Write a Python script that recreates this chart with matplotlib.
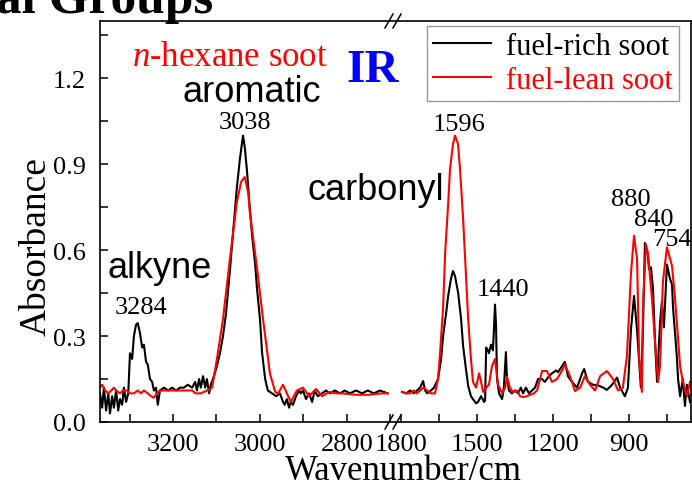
import matplotlib
matplotlib.use("Agg")
import matplotlib.pyplot as plt
from matplotlib.ticker import MultipleLocator

plt.rcParams['font.family'] = 'Liberation Serif'
plt.rcParams['mathtext.fontset'] = 'custom'
plt.rcParams['mathtext.rm'] = 'Liberation Serif'
plt.rcParams['mathtext.it'] = 'Liberation Serif:italic'

# C-H stretching region (cm-1)
rich_ch_wn = [3368, 3363, 3359, 3354, 3349, 3345, 3340, 3336, 3331, 3326, 3322, 3317, 3313, 3308,
              3303, 3299, 3294, 3290, 3285, 3281, 3276, 3271, 3267, 3262, 3258, 3253, 3248, 3244,
              3239, 3235, 3230, 3221, 3211, 3202, 3193, 3184, 3175, 3166, 3156, 3149, 3145, 3140,
              3136, 3131, 3126, 3122, 3117, 3113, 3106, 3099, 3092, 3085, 3078, 3069, 3062, 3053,
              3046, 3039, 3035, 3030, 3023, 3018, 3011, 3007, 3000, 2995, 2988, 2982, 2972, 2963,
              2954, 2947, 2943, 2938, 2933, 2929, 2924, 2917, 2910, 2906, 2901, 2894, 2887, 2880,
              2874, 2867, 2857, 2848, 2839, 2828, 2816, 2805, 2793, 2779, 2765, 2752, 2738, 2724, 2706]
rich_ch_abs = [0.10, 0.05, 0.12, 0.04, 0.10, 0.03, 0.09, 0.05, 0.11, 0.04, 0.08, 0.06, 0.12, 0.07,
               0.10, 0.24, 0.22, 0.30, 0.34, 0.345, 0.31, 0.26, 0.27, 0.21, 0.20, 0.15, 0.14, 0.11,
               0.12, 0.06, 0.11, 0.12, 0.11, 0.12, 0.11, 0.12, 0.12, 0.13, 0.12, 0.14, 0.11, 0.15,
               0.12, 0.16, 0.12, 0.15, 0.10, 0.13, 0.16, 0.195, 0.24, 0.30, 0.38, 0.53, 0.66, 0.82,
               0.92, 1.00, 0.96, 0.88, 0.74, 0.65, 0.55, 0.47, 0.36, 0.24, 0.15, 0.11, 0.10, 0.09,
               0.10, 0.07, 0.06, 0.08, 0.05, 0.07, 0.06, 0.09, 0.11, 0.10, 0.11, 0.08, 0.10, 0.07,
               0.11, 0.09, 0.10, 0.11, 0.10, 0.11, 0.10, 0.11, 0.10, 0.11, 0.10, 0.11, 0.10, 0.11, 0.10]

lean_ch_wn = [3368, 3363, 3356, 3349, 3342, 3336, 3331, 3322, 3315, 3306, 3299, 3290, 3281, 3274,
              3267, 3258, 3251, 3244, 3237, 3230, 3200, 3170, 3156, 3149, 3136, 3122, 3110, 3099,
              3085, 3069, 3053, 3043, 3035, 3027, 3023, 3007, 2993, 2977, 2965, 2958, 2947, 2938,
              2929, 2915, 2901, 2887, 2871, 2857, 2841, 2825, 2811, 2779, 2750, 2720, 2706]
lean_ch_abs = [0.12, 0.13, 0.11, 0.10, 0.11, 0.12, 0.11, 0.10, 0.11, 0.11, 0.10, 0.10, 0.11, 0.10,
               0.11, 0.10, 0.09, 0.085, 0.10, 0.11, 0.11, 0.11, 0.11, 0.10, 0.10, 0.11, 0.12, 0.22,
               0.36, 0.57, 0.77, 0.84, 0.855, 0.80, 0.73, 0.54, 0.36, 0.17, 0.105, 0.10, 0.13, 0.10,
               0.07, 0.11, 0.12, 0.09, 0.115, 0.09, 0.105, 0.10, 0.10, 0.095, 0.095, 0.10, 0.10]

# fingerprint region (cm-1)
rich_fp_wn = [1796, 1780, 1764, 1749, 1737, 1725, 1713, 1705, 1697, 1682, 1670, 1654, 1642, 1634,
              1622, 1614, 1603, 1595, 1587, 1575, 1563, 1555, 1543, 1535, 1524, 1516, 1504, 1496,
              1484, 1472, 1468, 1464, 1457, 1453, 1445, 1437, 1429, 1425, 1421, 1413, 1401, 1394,
              1386, 1382, 1374, 1362, 1350, 1338, 1327, 1318, 1307, 1295, 1283, 1271, 1259, 1243,
              1232, 1216, 1204, 1188, 1180, 1168, 1153, 1141, 1125, 1105, 1085, 1077, 1062, 1042,
              1022, 1002, 987, 967, 947, 935, 916, 904, 892, 880, 868, 853, 845, 837, 825, 821,
              813, 805, 797, 789, 777, 770, 762, 750, 738, 730, 726, 711, 706, 698, 687, 679, 671, 659]
rich_fp_abs = [0.105, 0.10, 0.11, 0.10, 0.11, 0.12, 0.143, 0.11, 0.10, 0.11, 0.12, 0.15, 0.22, 0.30,
               0.38, 0.44, 0.50, 0.527, 0.51, 0.453, 0.36, 0.265, 0.18, 0.126, 0.09, 0.08, 0.065, 0.07,
               0.09, 0.07, 0.075, 0.26, 0.25, 0.24, 0.27, 0.25, 0.41, 0.34, 0.15, 0.10, 0.08, 0.12,
               0.244, 0.16, 0.11, 0.10, 0.11, 0.10, 0.12, 0.10, 0.12, 0.10, 0.11, 0.12, 0.15, 0.15,
               0.14, 0.16, 0.17, 0.18, 0.174, 0.19, 0.21, 0.16, 0.14, 0.12, 0.17, 0.185, 0.14, 0.13,
               0.128, 0.12, 0.112, 0.13, 0.155, 0.12, 0.09, 0.12, 0.324, 0.44, 0.32, 0.12, 0.31, 0.625, 0.58, 0.534,
               0.54, 0.464, 0.28, 0.14, 0.35, 0.42, 0.33, 0.55, 0.50, 0.48, 0.40, 0.23, 0.15, 0.09, 0.15, 0.056, 0.13, 0.07]

lean_fp_wn = [1796, 1780, 1764, 1749, 1737, 1725, 1713, 1697, 1682, 1666, 1654, 1646, 1634, 1626,
              1614, 1607, 1595, 1587, 1575, 1567, 1555, 1543, 1535, 1524, 1516, 1504, 1492, 1484,
              1476, 1464, 1453, 1441, 1429, 1417, 1401, 1389, 1382, 1370, 1358, 1342, 1330, 1318,
              1303, 1291, 1275, 1263, 1251, 1243, 1224, 1204, 1184, 1164, 1153, 1133, 1113, 1093,
              1074, 1054, 1034, 1014, 987, 963, 943, 924, 908, 892, 880, 868, 860, 849, 845, 833,
              825, 809, 797, 785, 777, 766, 750, 730, 718, 698, 687, 671, 659]
lean_fp_abs = [0.105, 0.10, 0.10, 0.11, 0.10, 0.11, 0.12, 0.11, 0.10, 0.10, 0.15, 0.24, 0.40, 0.59,
               0.76, 0.88, 0.97, 1.00, 0.97, 0.88, 0.71, 0.50, 0.36, 0.22, 0.14, 0.12, 0.17, 0.14,
               0.105, 0.12, 0.13, 0.195, 0.22, 0.13, 0.10, 0.12, 0.157, 0.12, 0.105, 0.11, 0.09, 0.087,
               0.09, 0.095, 0.10, 0.11, 0.15, 0.178, 0.178, 0.14, 0.15, 0.18, 0.20, 0.16, 0.108, 0.12,
               0.16, 0.13, 0.11, 0.16, 0.178, 0.15, 0.11, 0.12, 0.23, 0.52, 0.65, 0.57, 0.23, 0.105, 0.40, 0.62,
               0.59, 0.43, 0.28, 0.14, 0.20, 0.49, 0.61, 0.545, 0.43, 0.195, 0.14, 0.09, 0.14]

# peak labels: (text, wavenumber, absorbance at text centre)
peaks_ch = [("3284", 3274, 0.40), ("3038", 3034, 1.046)]
peaks_fp = [("1596", 1571, 1.04), ("1440", 1397, 0.464), ("880", 892, 0.78),
            ("840", 801, 0.71), ("754", 730, 0.64)]

fig = plt.figure(figsize=(6.92, 4.89), dpi=100)
W, H = 692, 489
bot, top = 66 / H, 401 / H
ax1 = fig.add_axes([100 / W, bot, 296 / W, top])
ax2 = fig.add_axes([396 / W, bot, 295 / W, top])

lw = 1.5
l1, = ax1.plot(rich_ch_wn, rich_ch_abs, color='black', lw=lw, label='fuel-rich soot')
l2, = ax1.plot(lean_ch_wn, lean_ch_abs, color='red', lw=lw, label='fuel-lean soot')
ax2.plot(rich_fp_wn, rich_fp_abs, color='black', lw=lw)
ax2.plot(lean_fp_wn, lean_fp_abs, color='red', lw=lw)

ax1.set_xlim(3368, 2687)
ax2.set_xlim(1820, 655)
for ax in (ax1, ax2):
    ax.set_ylim(0, 1.4)
    for s in ax.spines.values():
        s.set_linewidth(1.2)
    ax.tick_params(which='both', direction='in', length=6, width=1.1, labelsize=19, pad=8)
ax1.spines['right'].set_visible(False)
ax2.spines['left'].set_visible(False)
ax2.tick_params(axis='y', which='both', left=False, labelleft=False)

ax1.xaxis.set_major_locator(MultipleLocator(200))
ax1.xaxis.set_minor_locator(MultipleLocator(100))
ax2.xaxis.set_major_locator(MultipleLocator(300))
ax2.xaxis.set_minor_locator(MultipleLocator(150))
ax1.yaxis.set_major_locator(MultipleLocator(0.3))
ax1.yaxis.set_minor_locator(MultipleLocator(0.15))
ax1.yaxis.set_major_formatter(plt.FormatStrFormatter('%.1f'))
ax1.tick_params(axis='y', pad=10)

ax1.set_ylabel('Absorbance', fontsize=27, va='center')
ax1.yaxis.set_label_coords(-64 / 296, 0.44)
fig.text(403 / W, 1 - 480 / H, 'Wavenumber/cm', fontsize=25, ha='center', va='baseline')

# axis break marks
for xb in (389, 397):
    for yb in (22, 423):
        fig.lines.append(plt.Line2D([(xb - 4) / W, (xb + 4) / W], [1 - (yb + 7) / H, 1 - (yb - 7) / H],
                                    transform=fig.transFigure, color='black', lw=1.1))

for txt, x, y in peaks_ch:
    ax1.text(x, y, txt, fontsize=19, ha='center', va='center')
for txt, x, y in peaks_fp:
    ax2.text(x, y, txt, fontsize=19, ha='center', va='center')

sans = 'Liberation Sans'
fig.text(252 / W, 1 - 102 / H, 'aromatic', fontsize=26, family=sans, ha='center', va='baseline')
fig.text(160 / W, 1 - 278 / H, 'alkyne', fontsize=26, family=sans, ha='center', va='baseline')
fig.text(376 / W, 1 - 200 / H, 'carbonyl', fontsize=26, family=sans, ha='center', va='baseline')
fig.text(230 / W, 1 - 66 / H, r'$n$-hexane soot', fontsize=25, color='red', ha='center', va='baseline')
fig.text(373 / W, 1 - 82 / H, 'IR', fontsize=34, color='blue', weight='bold', ha='center', va='baseline')
fig.text(-4 / W, 1 - 13 / H, 'al Groups', fontsize=37, weight='bold', ha='left', va='baseline')

leg = fig.legend(handles=[l1, l2], loc='upper right', bbox_to_anchor=(679 / W, 1 - 27 / H),
                 fontsize=22, frameon=True, fancybox=False, edgecolor='#808080',
                 handlelength=1.9, handletextpad=0.5, labelspacing=0.15, borderpad=0.2,
                 borderaxespad=0, labelcolor='linecolor')
leg.get_frame().set_linewidth(1.0)

fig.savefig('out.png', dpi=100)
